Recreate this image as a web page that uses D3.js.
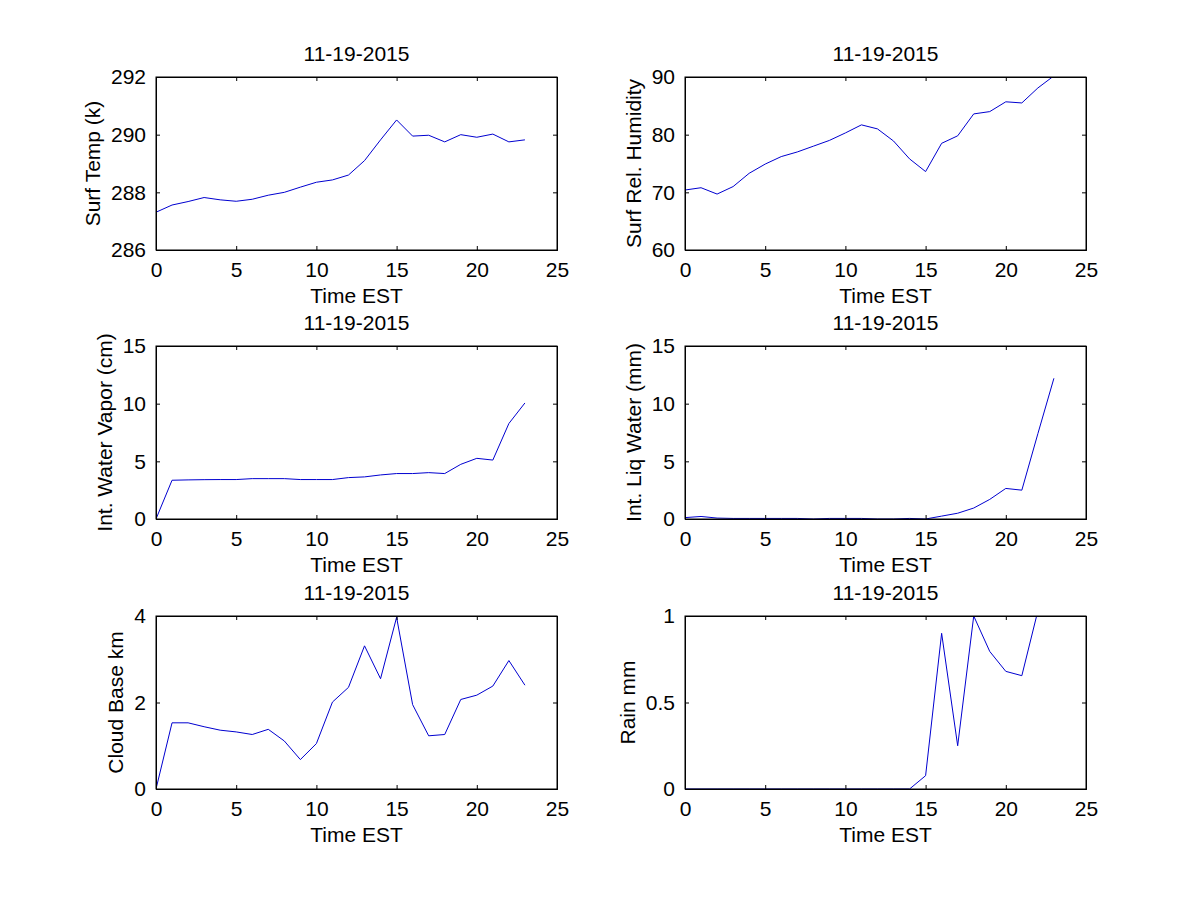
<!DOCTYPE html>
<html>
<head>
<meta charset="utf-8">
<script src="https://cdn.jsdelivr.net/npm/d3@7"></script>
<style>
  body { margin: 0; background: #fff; }
  text { font-family: "Liberation Sans", Arial, sans-serif; font-size: 21px; fill: #000; }
</style>
</head>
<body>
<div id="chart"></div>
<script>
let hours = d3.range(0, 24);
let dateTitle = "11-19-2015";

// values, one per hour
let surfTemp = [287.31, 287.56, 287.68, 287.82, 287.74, 287.69, 287.76, 287.90, 288.00, 288.18, 288.35, 288.43,
    288.60, 289.10, 289.82, 290.51, 289.95, 289.98, 289.75, 290.00, 289.91, 290.02, 289.75, 289.82];
let surfHum = [70.4, 70.8, 69.7, 71.0, 73.3, 74.9, 76.2, 77.0, 78.0, 79.0, 80.3, 81.7,
    81.0, 78.9, 75.8, 73.6, 78.5, 79.8, 83.6, 84.0, 85.7, 85.5, 88.1, 90.2];
let waterVapor = [0, 3.36, 3.39, 3.41, 3.42, 3.42, 3.5, 3.5, 3.5, 3.42, 3.42, 3.42,
    3.59, 3.65, 3.82, 3.94, 3.94, 4.02, 3.94, 4.74, 5.26, 5.11, 8.28, 10.06];
let liqWater = [0.12, 0.22, 0.08, 0.05, 0.05, 0.05, 0.05, 0.05, 0, 0.05, 0.05, 0.05,
    0, 0, 0.05, 0, 0.25, 0.5, 0.95, 1.7, 2.65, 2.5, 7.4, 12.2];
let cloudBase = [0, 1.53, 1.53, 1.44, 1.36, 1.32, 1.26, 1.38, 1.11, 0.68, 1.05, 2.01,
    2.35, 3.31, 2.55, 3.97, 1.95, 1.23, 1.26, 2.07, 2.17, 2.38, 2.97, 2.40];
let rain = [0, 0, 0, 0, 0, 0, 0, 0, 0, 0, 0, 0,
    0, 0, 0, 0.077, 0.90, 0.25, 1.0, 0.795, 0.68, 0.655, 1.03, 1.5];

let xTicks = [0, 5, 10, 15, 20, 25];

let panels = [
    {values: surfTemp, label: "Surf Temp (k)", domain: [286, 292], ticks: [286, 288, 290, 292]},
    {values: surfHum, label: "Surf Rel. Humidity", domain: [60, 90], ticks: [60, 70, 80, 90]},
    {values: waterVapor, label: "Int. Water Vapor (cm)", domain: [0, 15], ticks: [0, 5, 10, 15]},
    {values: liqWater, label: "Int. Liq Water (mm)", domain: [0, 15], ticks: [0, 5, 10, 15]},
    {values: cloudBase, label: "Cloud Base km", domain: [0, 4], ticks: [0, 2, 4]},
    {values: rain, label: "Rain mm", domain: [0, 1], ticks: [0, 0.5, 1]}
];

let W = 1200, H = 900;
let colLeft = [156, 685], axW = 401;
let rowTop = [77, 346, 616], axH = 173;
let tickLen = 4;

let svg = d3.select("#chart").append("svg")
    .attr("width", W)
    .attr("height", H);

panels.forEach(function (p, i) {
    let left = colLeft[i % 2], top = rowTop[Math.floor(i / 2)];

    let x = d3.scaleLinear().domain([0, 25]).range([0, axW]);
    let y = d3.scaleLinear().domain(p.domain).range([axH, 0]);

    let g = svg.append("g").attr("transform", "translate(" + left + "," + top + ")");

    g.append("clipPath").attr("id", "clip" + i)
        .append("rect").attr("width", axW).attr("height", axH);

    // the data line
    g.append("path")
        .datum(hours)
        .attr("clip-path", "url(#clip" + i + ")")
        .attr("fill", "none")
        .attr("stroke", "#0000d0")
        .attr("stroke-width", 1)
        .attr("d", d3.line()
            .x(function (h) { return x(h); })
            .y(function (h) { return y(p.values[h]); }));

    // inward ticks on all four sides, no labels on top/right
    g.append("g").attr("transform", "translate(0," + axH + ")")
        .call(d3.axisBottom(x).tickValues(xTicks).tickSize(-tickLen).tickPadding(8 + tickLen).tickFormat(d3.format("d")));
    g.append("g")
        .call(d3.axisTop(x).tickValues(xTicks).tickSize(-tickLen).tickFormat(""));
    let yAx = g.append("g")
        .call(d3.axisLeft(y).tickValues(p.ticks).tickSize(-tickLen).tickPadding(6 + tickLen).tickFormat(d3.format("")));
    g.append("g").attr("transform", "translate(" + axW + ",0)")
        .call(d3.axisRight(y).tickValues(p.ticks).tickSize(-tickLen).tickFormat(""));

    g.selectAll(".domain").attr("stroke", "#000");
    g.selectAll(".tick line").attr("stroke", "#000");
    g.selectAll(".tick text").style("font-size", "21px").attr("fill", "#000");

    // box
    g.append("rect")
        .attr("width", axW).attr("height", axH)
        .attr("fill", "none").attr("stroke", "#000").attr("stroke-width", 1);

    // widest y tick label decides where the y label sits
    let maxW = 0;
    yAx.selectAll(".tick text").each(function () {
        maxW = Math.max(maxW, this.getComputedTextLength());
    });
    let labelX = -(6 + tickLen) - maxW - 11;

    g.append("text")
        .attr("transform", "translate(" + labelX + "," + (axH / 2) + ") rotate(-90)")
        .style("text-anchor", "middle")
        .text(p.label);

    // x label
    g.append("text")
        .attr("x", axW / 2)
        .attr("y", axH + 53)
        .style("text-anchor", "middle")
        .text("Time EST");

    // title
    g.append("text")
        .attr("x", axW / 2)
        .attr("y", -16)
        .style("text-anchor", "middle")
        .text(dateTitle);
});
</script>
</body>
</html>
